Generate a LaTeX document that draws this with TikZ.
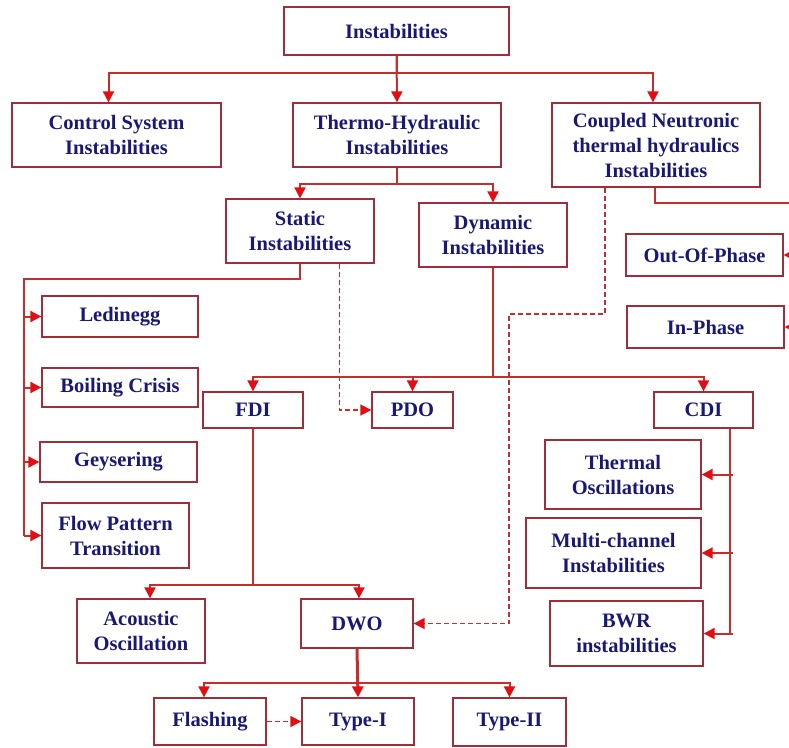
\documentclass[tikz,border=0pt]{standalone}
\usepackage{fontspec}
\setmainfont{Liberation Serif}
\usepackage{tikz}
\usetikzlibrary{arrows.meta,calc}
\definecolor{boxred}{RGB}{160,45,55}
\definecolor{linered}{RGB}{200,45,45}
\definecolor{tipred}{RGB}{225,15,20}
\definecolor{navytext}{RGB}{25,25,115}
\tikzstyle{blk}=[draw=boxred, line width=1.3pt, fill=white, text=navytext, font=\fontsize{20.5}{25}\selectfont\bfseries, align=center, inner sep=0pt]
\tikzstyle{wire}=[draw=linered, line width=2pt]
\tikzstyle{conn}=[wire, -{Triangle[length=11pt,width=11pt,color=tipred]}]
\tikzstyle{dconn}=[conn, line width=1.5pt, dash pattern=on 5pt off 3pt]
\tikzstyle{bigconn}=[conn, line width=3pt]

\begin{document}
\begin{tikzpicture}[x=1pt,y=-1pt]
		\useasboundingbox (0,0) rectangle (789,747);
		\clip (0,0) rectangle (789,747);
		% top levels
		\node[blk, minimum width=225pt, minimum height=48pt] (inst) at (396.5,31) {Instabilities};
		\node[blk, minimum width=209pt, minimum height=64pt] (ctrl) at (116.5,135) {Control System\\Instabilities};
		\node[blk, minimum width=208pt, minimum height=64pt] (thermo) at (397,135) {Thermo-Hydraulic\\Instabilities};
		\node[blk, minimum width=208pt, minimum height=84pt] (coupled) at (656,145) {Coupled Neutronic\\thermal hydraulics\\Instabilities};
		\node[blk, minimum width=148pt, minimum height=64pt] (static) at (300,231) {Static\\Instabilities};
		\node[blk, minimum width=148pt, minimum height=64pt] (dynamic) at (493,235) {Dynamic\\Instabilities};
		\node[blk, minimum width=157pt, minimum height=42pt] (outph) at (704.5,255) {Out-Of-Phase};
		\node[blk, minimum width=157pt, minimum height=42pt] (inph) at (705.5,327) {In-Phase};
		% static branch
		\node[blk, minimum width=156pt, minimum height=41pt] (ledinegg) at (120,316.5) {Ledinegg};
		\node[blk, minimum width=156pt, minimum height=39pt] (boiling) at (120,387.5) {Boiling Crisis};
		\node[blk, minimum width=157pt, minimum height=40pt] (geyser) at (118.5,462) {Geysering};
		\node[blk, minimum width=147pt, minimum height=65pt] (flowpat) at (115.5,535.5) {Flow Pattern\\Transition};
		% dynamic branch
		\node[blk, minimum width=100pt, minimum height=36pt] (fdi) at (253,410) {FDI};
		\node[blk, minimum width=81pt, minimum height=36pt] (pdo) at (412.5,410) {PDO};
		\node[blk, minimum width=99pt, minimum height=36pt] (cdi) at (703.5,410) {CDI};
		\node[blk, minimum width=156pt, minimum height=69pt] (thermal) at (623,474.5) {Thermal\\Oscillations};
		\node[blk, minimum width=175pt, minimum height=70pt] (multi) at (613.5,553) {Multi-channel\\Instabilities};
		\node[blk, minimum width=153pt, minimum height=65pt] (bwr) at (626.5,633.5) {BWR\\instabilities};
		\node[blk, minimum width=128pt, minimum height=64pt] (acoustic) at (141,631) {Acoustic\\Oscillation};
		\node[blk, minimum width=112pt, minimum height=49pt] (dwo) at (357,623.5) {DWO};
		\node[blk, minimum width=112pt, minimum height=47pt] (flashing) at (210,721.5) {Flashing};
		\node[blk, minimum width=112pt, minimum height=47pt] (typeI) at (358,721.5) {Type-I};
		\node[blk, minimum width=113pt, minimum height=48pt] (typeII) at (509.5,722) {Type-II};
		% bus points
		\coordinate (sbus) at (24,279);
		\coordinate (cbus) at (799,203);
		\coordinate (cbend) at (509,314);
		\coordinate (cdibus) at ([xshift=26.5pt]cdi.south);
		\coordinate (tbus) at ($(dwo.south)+(0,34)$);
		% connectors
		\draw[conn] (inst.south) -- (thermo.north);
		\draw[conn] (inst.south) -- ++(0,17) -| ([xshift=-8pt]ctrl.north);
		\draw[conn] (inst.south) -- ++(0,17) -| ([xshift=-3pt]coupled.north);
		\draw[conn] (thermo.south) -- ++(0,16) -| (static.north);
		\draw[conn] (thermo.south) -- ++(0,16) -| (dynamic.north);
		\draw[wire] ([xshift=-1pt]coupled.south) |- (cbus) -- (cbus |- inph.east);
		\draw[conn] (cbus |- outph.east) -- (outph.east);
		\draw[conn] (cbus |- inph.east) -- (inph.east);
		\draw[wire] (static.south) |- (sbus) -- (sbus |- flowpat.west);
		\foreach \n in {ledinegg,boiling,geyser,flowpat}
			\draw[conn] (sbus |- \n.west) -- (\n.west);
		\draw[dconn] ([xshift=-35pt]static.south east) |- (pdo.west);
		\draw[wire] (dynamic.south) -- ++(0,109) coordinate (dbus);
		\draw[conn] (dbus) -| (fdi.north);
		\draw[conn] (dbus) -| (pdo.north);
		\draw[conn] (dbus) -| (cdi.north);
		\draw[wire] (cdibus) -- (cdibus |- bwr.east);
		\foreach \n in {thermal,multi,bwr}
			\draw[conn] ([xshift=3pt]cdibus |- \n.east) -- (\n.east);
		\draw[dconn] ([xshift=-51pt]coupled.south) |- (cbend) |- (dwo.east);
		\draw[wire] (fdi.south) -- ++(0,156) coordinate (fbus);
		\draw[conn] (fbus) -| ([xshift=9pt]acoustic.north);
		\draw[conn] (fbus) -| ([xshift=2pt]dwo.north);
		\draw[bigconn] (dwo.south) -- (typeI.north);
		\draw[conn] (tbus) -| ([xshift=-6pt]flashing.north);
		\draw[conn] (tbus) -| (typeII.north);
		\draw[dconn] (flashing.east) -- (typeI.west);
	\end{tikzpicture}
\end{document}
